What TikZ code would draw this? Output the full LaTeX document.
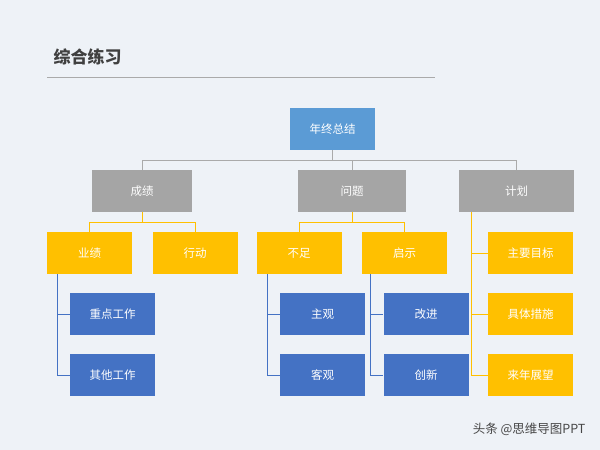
\documentclass[tikz,border=0pt]{standalone}
\usepackage{fontspec}
\setmainfont{Noto Sans CJK SC}
\definecolor{bgc}{RGB}{238,242,247}
\definecolor{lbl}{RGB}{91,155,213}
\definecolor{gry}{RGB}{165,165,165}
\definecolor{yel}{RGB}{255,192,0}
\definecolor{dbl}{RGB}{68,114,196}
\definecolor{lgr}{RGB}{170,170,170}
\definecolor{ttl}{RGB}{64,64,64}
\definecolor{wmc}{RGB}{70,70,70}
\begin{document}
\begin{tikzpicture}[x=1pt,y=-1pt,
  box/.style={minimum width=85pt,minimum height=42pt,inner sep=0pt,font=\fontsize{11.5}{13}\selectfont,text=white},
  bl/.style={box,fill=lbl},
  gr/.style={box,fill=gry,minimum width=100pt},
  ye/.style={box,fill=yel},
  db/.style={box,fill=dbl},
  gline/.style={draw=lgr,line width=0.8pt},
  yline/.style={draw=yel,line width=0.8pt},
  bline/.style={draw=dbl,line width=0.8pt}]
\fill[bgc] (0,0) rectangle (600,450);
\useasboundingbox (0,0) rectangle (600,450);
\node[anchor=west,font=\fontsize{17}{20}\selectfont\bfseries,text=ttl] (title) at (50,57) {综合练习};
\draw[gline,line width=0.6pt] (47,77) -- (435,77);
\node[bl] (root) at (332.5,129) {年终总结};
\node[gr] (c1) at (142,191) {成绩};
\node[gr,minimum width=108pt] (c2) at (352,191) {问题};
\node[gr,minimum width=115pt] (c3) at (516.5,191) {计划};
\draw[gline] (root.south) -- (332.5,160) -| (c1.north);
\draw[gline] (332.5,160) -| (c2.north);
\draw[gline] (332.5,160) -| (c3.north);
\node[ye] (y1) at (89.5,253) {业绩};
\node[ye] (y2) at (195,253) {行动};
\node[ye] (y3) at (299,253) {不足};
\node[ye] (y4) at (404.5,253) {启示};
\draw[yline] (c1.south) -- (142,222) -| (y1.north);
\draw[yline] (142,222) -| (y2.north);
\draw[yline] (c2.south) -- (352,222) -| (y3.north);
\draw[yline] (352,222) -| (y4.north);
\node[db] (b1) at (112.5,314) {重点工作};
\node[db] (b2) at (112.5,375) {其他工作};
\node[db] (b3) at (322.5,314) {主观};
\node[db] (b4) at (322.5,375) {客观};
\node[db] (b5) at (426,314) {改进};
\node[db] (b6) at (426,375) {创新};
\draw[bline] (57,274) |- (b1.west);
\draw[bline] (57,274) |- (b2.west);
\draw[bline] (267,274) |- (b3.west);
\draw[bline] (267,274) |- (b4.west);
\draw[bline] (370,274) |- (b5.west);
\draw[bline] (370,274) |- (b6.west);
\node[ye] (p1) at (530.5,253) {主要目标};
\node[ye] (p2) at (530.5,314) {具体措施};
\node[ye] (p3) at (530.5,375) {来年展望};
\draw[yline] (471,212) |- (p1.west);
\draw[yline] (471,212) |- (p2.west);
\draw[yline] (471,212) |- (p3.west);
\node[anchor=east,font=\fontsize{12.5}{14}\selectfont,text=wmc] (wm) at (589,429) {头条 @思维导图PPT};
\end{tikzpicture}
\end{document}
